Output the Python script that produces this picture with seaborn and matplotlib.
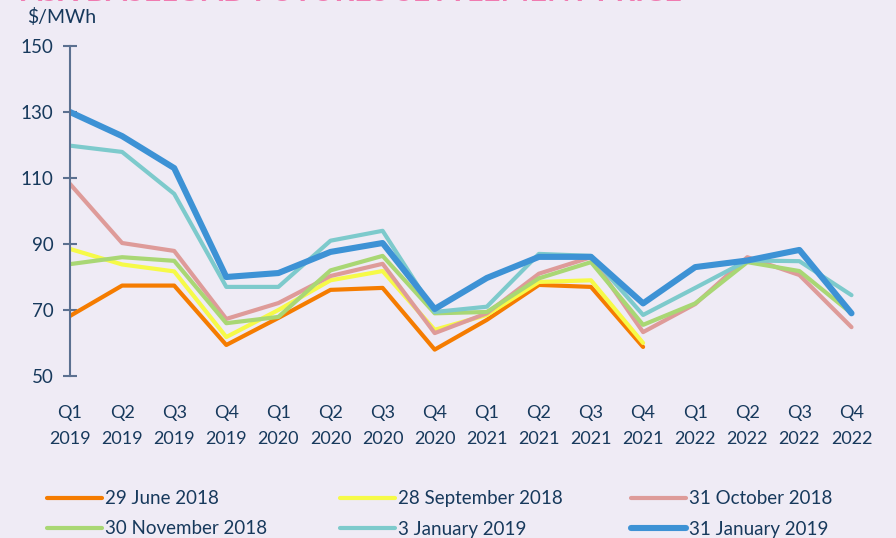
import numpy as np
import pandas as pd
import matplotlib
matplotlib.use("Agg")
import matplotlib.pyplot as plt
import seaborn as sns

# Data
quarters = ["Q1\n2019", "Q2\n2019", "Q3\n2019", "Q4\n2019",
            "Q1\n2020", "Q2\n2020", "Q3\n2020", "Q4\n2020",
            "Q1\n2021", "Q2\n2021", "Q3\n2021", "Q4\n2021",
            "Q1\n2022", "Q2\n2022", "Q3\n2022", "Q4\n2022"]

june_2018 = [68.2, 77.4, 77.4, 59.4, 67.6, 76.1, 76.7, 58.0,
             67.0, 77.6, 77.0, 58.8, None, None, None, None]
sept_2018 = [88.5, 83.8, 81.7, 61.8, 70.0, 79.0, 81.8, 64.0,
             68.5, 78.5, 79.0, 60.0, None, None, None, None]
oct_2018 = [108.2, 90.3, 87.9, 67.3, 72.1, 80.3, 84.0, 63.0,
            69.0, 81.0, 86.0, 63.3, 71.8, 86.0, 80.6, 64.8]
nov_2018 = [83.9, 86.0, 84.9, 66.0, 67.9, 82.0, 86.4, 69.0,
            69.4, 79.6, 84.5, 65.5, 72.0, 84.5, 81.8, 69.0]
jan3_2019 = [119.8, 117.9, 105.2, 77.0, 77.0, 91.0, 94.0, 69.4,
             71.0, 87.0, 86.4, 68.5, 76.7, 85.0, 84.8, 74.5]
jan31_2019 = [130.0, 122.7, 113.0, 80.0, 81.2, 87.6, 90.3, 70.3,
              79.7, 86.1, 86.1, 72.0, 83.0, 85.0, 88.2, 69.0]

series_names = ["29 June 2018", "28 September 2018", "31 October 2018",
                "30 November 2018", "3 January 2019", "31 January 2019"]
series_values = [june_2018, sept_2018, oct_2018, nov_2018, jan3_2019, jan31_2019]
colors = ["#F57C00", "#F6FA48", "#DE9B99", "#A9D774", "#7DCACC", "#3D92D5"]
widths = [3.0, 3.0, 3.0, 3.0, 3.0, 4.4]

bg = "#EFEBF5"
navy = "#17395C"

rows = []
for name, vals in zip(series_names, series_values):
    for i, v in enumerate(vals):
        rows.append({"series": name, "q": i, "price": v})
df = pd.DataFrame(rows).dropna()

sns.set_style("white")
plt.rcParams["font.family"] = ["Lato", "DejaVu Sans"]

fig = plt.figure(figsize=(8.96, 5.38), dpi=100, facecolor=bg)
ax = fig.add_axes([70 / 896, 1 - 376 / 538, 800 / 896, 330 / 538])
ax.set_facecolor(bg)

handles = []
for name, c, lw in zip(series_names, colors, widths):
    sns.lineplot(data=df[df["series"] == name], x="q", y="price", color=c,
                 linewidth=lw, ax=ax, label=name, legend=False)
    handles.append(ax.lines[-1])

ax.set_xlim(0, 800 / 52.1)
ax.set_ylim(50, 150)
ax.set_yticks([50, 70, 90, 110, 130, 150])
ax.set_xticks(range(len(quarters)))
ax.set_xticklabels(quarters, fontsize=13, color=navy, linespacing=1.75)
ax.tick_params(axis="x", length=0, pad=21)
ax.tick_params(axis="y", left=True, direction="inout", length=10, width=1.5,
               color="#5B7090", labelsize=13.5, labelcolor=navy, pad=7)
ax.set_xlabel("")
ax.set_ylabel("")
for s in ["top", "right", "bottom"]:
    ax.spines[s].set_visible(False)
ax.spines["left"].set_color("#5B7090")
ax.spines["left"].set_linewidth(1.5)

fig.text(27 / 896, 1 - 17 / 538, "$/MWh", fontsize=14, color=navy, va="center")
# chart title sits mostly above the visible area in the reference
fig.text(20 / 896, 1 - 1 / 538, "ASX BASELOAD FUTURES SETTLEMENT PRICE", fontsize=22,
         fontweight="bold", color="#F07AB0", va="baseline")

# legend in three fixed columns, two rows
col_x = [38 / 896, 331 / 896, 622 / 896]
for k in range(3):
    leg = fig.legend(handles=[handles[k], handles[k + 3]],
                     labels=[series_names[k], series_names[k + 3]],
                     loc="upper left", bbox_to_anchor=(col_x[k], 1 - 481 / 538),
                     frameon=False, fontsize=13.5, handlelength=2.9,
                     handletextpad=0.15, labelspacing=0.7, borderpad=0)
    for t in leg.get_texts():
        t.set_color(navy)

fig.savefig("out.png", dpi=100, facecolor=bg)
